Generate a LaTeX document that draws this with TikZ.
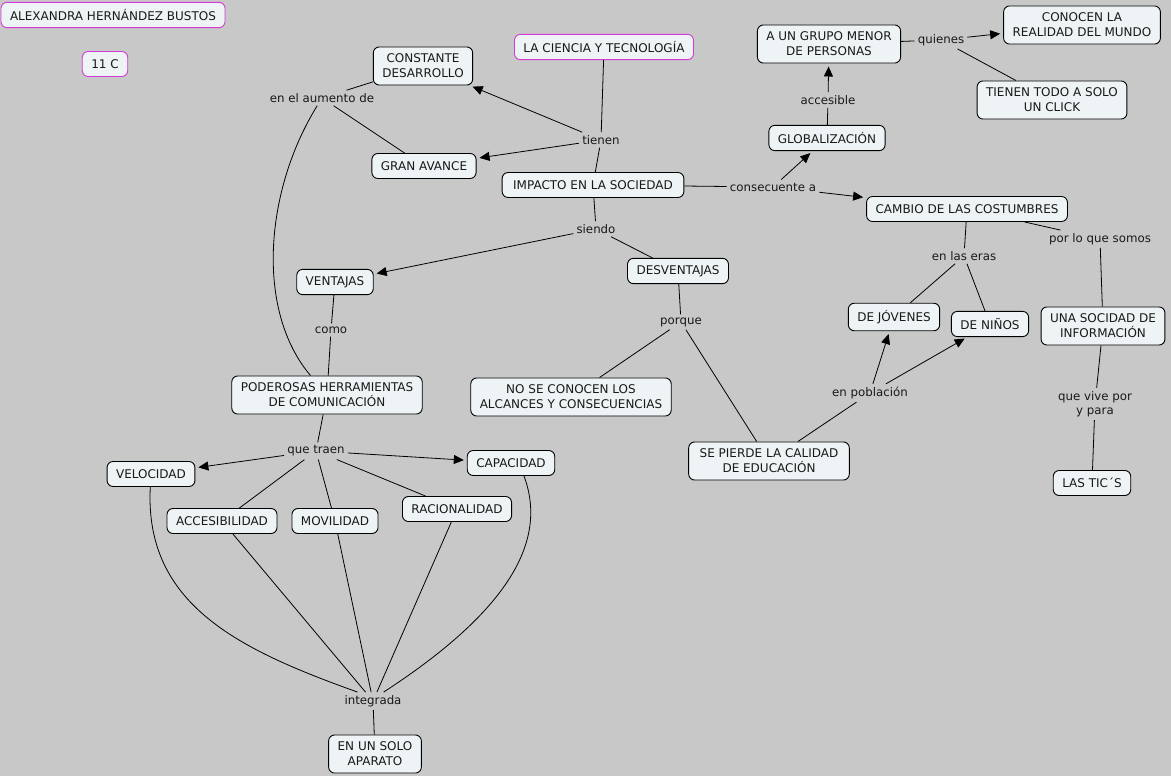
\documentclass[tikz,border=0pt]{standalone}
\usepackage{fontspec}
\setmainfont{DejaVu Sans}
\usetikzlibrary{arrows.meta}
\definecolor{mapback}{RGB}{200,200,200}
\definecolor{conceptfill}{RGB}{238,244,246}
\definecolor{titleline}{RGB}{210,60,210}
\definecolor{inktext}{RGB}{25,25,25}

\begin{document}
\begin{tikzpicture}[x=1pt,y=-1pt,
                    concept/.style={draw=black,fill=conceptfill,rounded corners=6pt,line width=0.9pt,inner xsep=9pt,inner ysep=7pt,minimum height=25pt,align=center,text=inktext,font={\fontsize{12}{15}\selectfont}},
                    title/.style={concept,draw=titleline},
                    linkword/.style={inner sep=3pt,align=center,text=inktext,font={\fontsize{11.8}{14.5}\selectfont}},
                    link/.style={line width=0.8pt},
                    arrow/.style={link,-{Triangle[length=10pt,width=9pt]},shorten >=3pt}]
            \fill[mapback] (0,0) rectangle (1171,776);
            \useasboundingbox (0,0) rectangle (1171,776);

            \node[title] (autora) at (113,15) {ALEXANDRA HERNÁNDEZ BUSTOS};
            \node[title] (curso) at (105,64) {11 C};
            \node[title] (ciencia) at (604,47) {LA CIENCIA Y TECNOLOGÍA};

            \node[concept] (constante) at (423,66) {CONSTANTE\\DESARROLLO};
            \node[concept] (avance) at (424,166) {GRAN AVANCE};
            \node[concept,inner xsep=11pt] (impacto) at (593,185) {IMPACTO EN LA SOCIEDAD};
            \node[concept] (grupo) at (829,44) {A UN GRUPO MENOR\\DE PERSONAS};
            \node[concept] (conocen) at (1082,25) {CONOCEN LA\\REALIDAD DEL MUNDO};
            \node[concept] (click) at (1052,100) {TIENEN TODO A SOLO\\UN CLICK};
            \node[concept] (globalizacion) at (827,138) {GLOBALIZACIÓN};
            \node[concept] (cambio) at (967,209) {CAMBIO DE LAS COSTUMBRES};
            \node[concept] (ventajas) at (335,282) {VENTAJAS};
            \node[concept] (desventajas) at (678,271) {DESVENTAJAS};
            \node[concept] (jovenes) at (894,317) {DE JÓVENES};
            \node[concept] (ninos) at (990,324) {DE NIÑOS};
            \node[concept] (sociedadinfo) at (1103,326) {UNA SOCIDAD DE\\INFORMACIÓN};
            \node[concept] (tics) at (1092,483) {LAS TIC´S};
            \node[concept] (poderosas) at (327,395) {PODEROSAS HERRAMIENTAS\\DE COMUNICACIÓN};
            \node[concept] (alcances) at (571,397) {NO SE CONOCEN LOS\\ALCANCES Y CONSECUENCIAS};
            \node[concept,inner xsep=11pt] (calidad) at (769,461) {SE PIERDE LA CALIDAD\\DE EDUCACIÓN};
            \node[concept] (velocidad) at (151,474) {VELOCIDAD};
            \node[concept] (capacidad) at (511,463) {CAPACIDAD};
            \node[concept] (accesibilidad) at (222,521) {ACCESIBILIDAD};
            \node[concept] (movilidad) at (335,521) {MOVILIDAD};
            \node[concept] (racionalidad) at (457,509) {RACIONALIDAD};
            \node[concept] (aparato) at (375,754) {EN UN SOLO\\APARATO};

            \node[linkword] (aumento) at (322,98) {en el aumento de};
            \node[linkword] (tienen) at (601,140) {tienen};
            \node[linkword] (siendo) at (596,229) {siendo};
            \node[linkword] (consecuente) at (773,187) {consecuente a};
            \node[linkword] (accesible) at (828,100) {accesible};
            \node[linkword] (quienes) at (941,40) {quienes};
            \node[linkword] (somos) at (1100,239) {por lo que somos};
            \node[linkword] (eras) at (964,256) {en las eras};
            \node[linkword] (como) at (331,330) {como};
            \node[linkword] (porque) at (681,322) {porque};
            \node[linkword] (poblacion) at (870,393) {en población};
            \node[linkword] (vive) at (1095,404) {que vive por\\y para};
            \node[linkword] (traen) at (316,451) {que traen};
            \node[linkword] (integrada) at (373,701) {integrada};

            \draw[link] (ciencia) -- (tienen);
            \draw[arrow] (tienen) -- (constante);
            \draw[arrow] (tienen) -- (avance);
            \draw[link] (tienen) -- (impacto);
            \draw[link] (constante) -- (aumento);
            \draw[link] (avance) -- (aumento);
            \draw[link] (aumento) .. controls (265,190) and (255,310) .. (poderosas);
            \draw[link] (impacto) -- (siendo);
            \draw[arrow] (siendo) -- (ventajas);
            \draw[link] (siendo) -- (desventajas);
            \draw[link] (impacto) -- (consecuente);
            \draw[arrow] (consecuente) -- (globalizacion);
            \draw[arrow] (consecuente) -- (cambio);
            \draw[link] (globalizacion) -- (accesible);
            \draw[arrow] (accesible) -- (grupo);
            \draw[link] (grupo) -- (quienes);
            \draw[arrow] (quienes) -- (conocen);
            \draw[link] (quienes) -- (click);
            \draw[link] (cambio) -- (eras);
            \draw[link] (eras) -- (jovenes);
            \draw[link] (eras) -- (ninos);
            \draw[link] (cambio) -- (somos);
            \draw[link] (somos) -- (sociedadinfo);
            \draw[link] (sociedadinfo) -- (vive);
            \draw[link] (vive) -- (tics);
            \draw[link] (ventajas) -- (como);
            \draw[link] (como) -- (poderosas);
            \draw[link] (desventajas) -- (porque);
            \draw[link] (porque) -- (alcances);
            \draw[link] (porque) -- (calidad);
            \draw[link] (calidad) -- (poblacion);
            \draw[arrow] (poblacion) -- (jovenes);
            \draw[arrow] (poblacion) -- (ninos);
            \draw[link] (poderosas) -- (traen);
            \draw[arrow] (traen) -- (velocidad);
            \draw[arrow] (traen) -- (capacidad);
            \draw[link] (traen) -- (accesibilidad);
            \draw[link] (traen) -- (movilidad);
            \draw[link] (traen) -- (racionalidad);
            \draw[link] (velocidad) .. controls (144,605) and (240,650) .. (integrada.150);
            \draw[link] (accesibilidad) -- (integrada);
            \draw[link] (movilidad) -- (integrada);
            \draw[link] (racionalidad) -- (integrada);
            \draw[link] (capacidad.-45) .. controls (548,540) and (510,610) .. (integrada.40);
            \draw[link] (integrada) -- (aparato);
        \end{tikzpicture}
\end{document}
